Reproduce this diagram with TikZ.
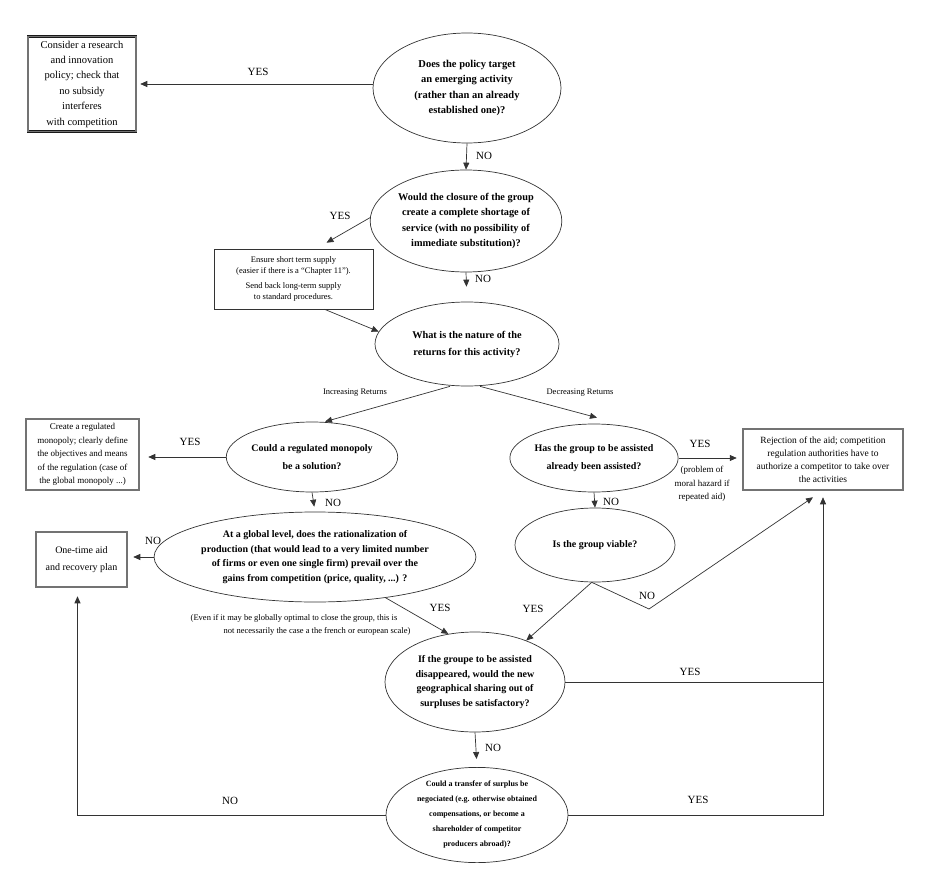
\documentclass[tikz,border=0pt]{standalone}
\usepackage{fontspec}
\setmainfont{Liberation Serif}
\usetikzlibrary{shapes.geometric,arrows.meta,calc}
\begin{document}
\begin{tikzpicture}[x=1pt,y=-1pt,
  q/.style={ellipse, draw=black!80, line width=0.7pt, inner sep=0pt, align=center},
  dbox/.style={rectangle, draw=black!90, line width=0.5pt, double=black!55, double distance=1.3pt, inner sep=0pt, align=center},
  sbox/.style={rectangle, draw=black!80, line width=0.6pt, inner sep=0pt, align=center},
  conn/.style={draw=black!80, line width=0.7pt},
  arr/.style={conn, -{Triangle[length=7pt,width=6pt]}},
  lab/.style={font=\fontsize{11}{13}\selectfont, inner sep=0pt},
  note/.style={font=\fontsize{8.5}{11}\selectfont, inner sep=0pt, align=center}]
\useasboundingbox (0,0) rectangle (944,890);

% boxes
\node[dbox, minimum width=108pt, minimum height=95pt, font=\fontsize{10.5}{15.4}\selectfont] (b1) at (82,84)
  {Consider a research\\and innovation\\policy; check that\\no subsidy\\interferes\\with competition};
\node[sbox, minimum width=159pt, minimum height=60pt, font=\fontsize{8.5}{11.5}\selectfont] (sb) at (293.5,279)
  {Ensure short term supply\\(easier if there is a ``Chapter 11'').\\[3pt]Send back long-term supply\\to standard procedures.};
\node[dbox, minimum width=113pt, minimum height=71pt, font=\fontsize{9}{13.5}\selectfont] (b2) at (82.5,454.5)
  {Create a regulated\\monopoly; clearly define\\the objectives and means\\of the regulation (case of\\the global monopoly ...)};
\node[dbox, minimum width=160pt, minimum height=61pt, font=\fontsize{9.5}{12.8}\selectfont] (b3) at (823,459.5)
  {Rejection of the aid; competition\\regulation authorities have to\\authorize a competitor to take over\\the activities};
\node[dbox, minimum width=91pt, minimum height=55pt, font=\fontsize{10}{17}\selectfont] (b4) at (81.5,559.5)
  {One-time aid\\and recovery plan};

% questions
\node[q, minimum width=188pt, minimum height=110pt, font=\bfseries\fontsize{10.5}{15.5}\selectfont] (e1) at (467,88)
  {Does the policy target\\an emerging activity\\(rather than an already\\established one)?};
\node[q, minimum width=184pt, minimum height=102pt, font=\bfseries\fontsize{10.3}{15.2}\selectfont] (e2) at (466,221)
  {Would the closure of the group\\create a complete shortage of\\service (with no possibility of\\immediate substitution)?};
\node[q, minimum width=184pt, minimum height=84pt, font=\bfseries\fontsize{10.3}{17}\selectfont] (e3) at (467,344)
  {What is the nature of the\\returns for this activity?};
\node[q, minimum width=160pt, minimum height=70pt, font=\bfseries\fontsize{10}{18}\selectfont] (e4) at (312,457)
  {Could a regulated monopoly\\be a solution?};
\node[q, minimum width=162pt, minimum height=68pt, font=\bfseries\fontsize{10}{18}\selectfont] (e5) at (594,458)
  {Has the group to be assisted\\already been assisted?};
\node[q, minimum width=294pt, minimum height=90pt, font=\bfseries\fontsize{10}{14.5}\selectfont] (e6) at (315,557)
  {At a global level, does the rationalization of\\production (that would lead to a very limited number\\of firms or even one single firm) prevail over the\\gains from competition (price, quality, ...) ?};
\node[q, minimum width=160pt, minimum height=74pt, font=\bfseries\fontsize{10}{14}\selectfont] (e7) at (595,545)
  {Is the group viable?};
\node[q, minimum width=180pt, minimum height=100pt, font=\bfseries\fontsize{10}{14.7}\selectfont] (e8) at (475,682)
  {If the groupe to be assisted\\disappeared, would the new\\geographical sharing out of\\surpluses be satisfactory?};
\node[q, minimum width=182pt, minimum height=94pt, font=\bfseries\fontsize{8}{15}\selectfont] (e9) at (477,815)
  {Could a transfer of surplus be\\negociated (e.g. otherwise obtained\\compensations, or become a\\shareholder of competitor\\producers abroad)?};

% connectors
\draw[arr, shorten >=4pt] (b1.east -| e1.west) -- (b1.east);
\node[lab] (y1) at (258,72) {YES};
\draw[arr] (e1.south) -- (e2.north);
\node[lab] (n1) at (484,156) {NO};

\draw[arr] (e2.178) -- ([xshift=33pt,yshift=6pt]sb.north);
\node[lab] (y2) at (340,216) {YES};
\draw[arr, shorten >=15pt] (e2.south) -- (e3.north);
\node[lab] (n2) at (483,279) {NO};
\draw[arr] ([xshift=31pt]sb.south) -- (e3.172);

\draw[arr] ([xshift=-17pt]e3.south) -- ([xshift=13pt]e4.north);
\node[note] (ir) at (355,393) {Increasing Returns};
\draw[arr] ([xshift=13pt]e3.south) -- ([xshift=3pt,yshift=6pt]e5.north);
\node[note] (dr) at (580,393) {Decreasing Returns};

\draw[arr, shorten >=9pt] (e4.west) -- (e4.west -| b2.east);
\node[lab] (y3) at (190,442) {YES};
\draw[arr, shorten >=5pt] (e4.south) -- (e6.north);
\node[lab] (n3) at (333,503) {NO};

\draw[arr, shorten >=6pt] (e6.west) -- (e6.west -| b4.east);
\node[lab] (n4) at (153,541) {NO};
\draw[arr] (e6.-30) -- (e8.119);
\node[lab] (y4) at (440,608) {YES};
\node[note] (nt1) at (294,618) {(Even if it may be globally optimal to close the group, this is};
\node[note] (nt2) at (317,631) {not necessarily the case a the french or european scale)};

\draw[arr, shorten >=6pt] (e5.east) -- (e5.east -| b3.west);
\node[lab] (y5) at (700,444) {YES};
\node[note, font=\fontsize{9}{13.5}\selectfont] (nt3) at (702,484) {(problem of\\moral hazard if\\repeated aid)};
\draw[arr] (e5.south) -- (e7.north);
\node[lab] (n5) at (611,502) {NO};

\coordinate (v1) at (649,609);
\draw[arr] (e7.-95) -- (e8.39);
\node[lab] (y6) at (533,609) {YES};
\draw[arr] (e7.-95) -- (v1) -- ([xshift=-10pt,yshift=-7pt]b3.south);
\node[lab] (n6) at (647,596) {NO};

\draw[arr] (e8.east) -- (b3.south |- e8.east) -- ([yshift=-7pt]b3.south);
\node[lab] (y7) at (690,672) {YES};
\draw[arr, shorten >=8pt] (e8.south) -- (e9.north);
\node[lab] (n7) at (493,748) {NO};

\draw[arr, shorten >=9pt] (e9.west) -- ([xshift=-4pt]b4.south |- e9.west) -- ([xshift=-4pt]b4.south);
\node[lab] (n8) at (230,801) {NO};
\draw[conn] (e9.east) -- (b3.south |- e9.east) -- (b3.south |- e8.east);
\node[lab] (y8) at (698,800) {YES};
\end{tikzpicture}
\end{document}
